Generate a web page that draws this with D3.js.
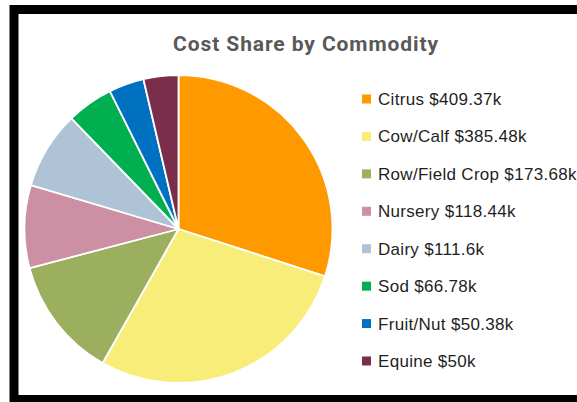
<!DOCTYPE html>
<html>
<head>
<meta charset="utf-8">
<script src="https://cdn.jsdelivr.net/npm/d3@7"></script>
<style>
  html, body { margin: 0; padding: 0; background: #fff; overflow: hidden; }
  svg { display: block; }
</style>
</head>
<body>
<div id="chart"></div>
<script>
// Commodity cost shares ($k)
const commodities = ['Citrus', 'Cow/Calf', 'Row/Field Crop', 'Nursery', 'Dairy', 'Sod', 'Fruit/Nut', 'Equine'];
const costs = [409.37, 385.48, 173.68, 118.44, 111.6, 66.78, 50.38, 50];
const costLabels = ['$409.37k', '$385.48k', '$173.68k', '$118.44k', '$111.6k', '$66.78k', '$50.38k', '$50k'];
const colors = ['#FF9900', '#F9ED7A', '#9BAF5E', '#CC8FA3', '#AEC3D6', '#00B050', '#0070C0', '#7B2E4C'];

const W = 577, H = 402;
const svg = d3.select('#chart').append('svg')
  .attr('width', W).attr('height', H);

// frame (right and bottom edges run past the picture)
svg.append('rect')
  .attr('x', 14).attr('y', 9.5)
  .attr('width', W + 20).attr('height', 390)
  .attr('fill', '#fff')
  .attr('stroke', '#000')
  .attr('stroke-width', 9);

svg.append('text')
  .attr('x', 306).attr('y', 51)
  .attr('text-anchor', 'middle')
  .attr('font-family', 'Roboto, sans-serif')
  .attr('font-weight', 'bold')
  .attr('font-size', 21)
  .attr('letter-spacing', 0.9)
  .attr('fill', '#595959')
  .text('Cost Share by Commodity');

const data = commodities.map((c, i) => ({ name: c, value: costs[i], label: costLabels[i], color: colors[i] }));

const pie = d3.pie().sort(null).value(d => d.value);
const arc = d3.arc().innerRadius(0).outerRadius(154);

const g = svg.append('g').attr('transform', 'translate(178.5,229)');
g.selectAll('path')
  .data(pie(data))
  .enter()
  .append('path')
  .attr('d', arc)
  .attr('fill', d => d.data.color)
  .attr('stroke', '#fff')
  .attr('stroke-width', 1.8)
  .attr('stroke-linejoin', 'round');

// Legend
const y = d3.scalePoint().domain(commodities).range([99, 361]);
const legend = svg.append('g');
const rows = legend.selectAll('g')
  .data(data)
  .enter()
  .append('g')
  .attr('transform', d => `translate(362,${y(d.name)})`);
rows.append('rect')
  .attr('x', 0).attr('y', -4.5)
  .attr('width', 9).attr('height', 9)
  .attr('fill', d => d.color);
rows.append('text')
  .attr('x', 16).attr('y', 6)
  .attr('font-family', '"Liberation Sans", Arial, sans-serif')
  .attr('font-size', 17)
  .attr('letter-spacing', 0.3)
  .attr('fill', '#1f1f1f')
  .text(d => `${d.name} ${d.label}`);
</script>
</body>
</html>
